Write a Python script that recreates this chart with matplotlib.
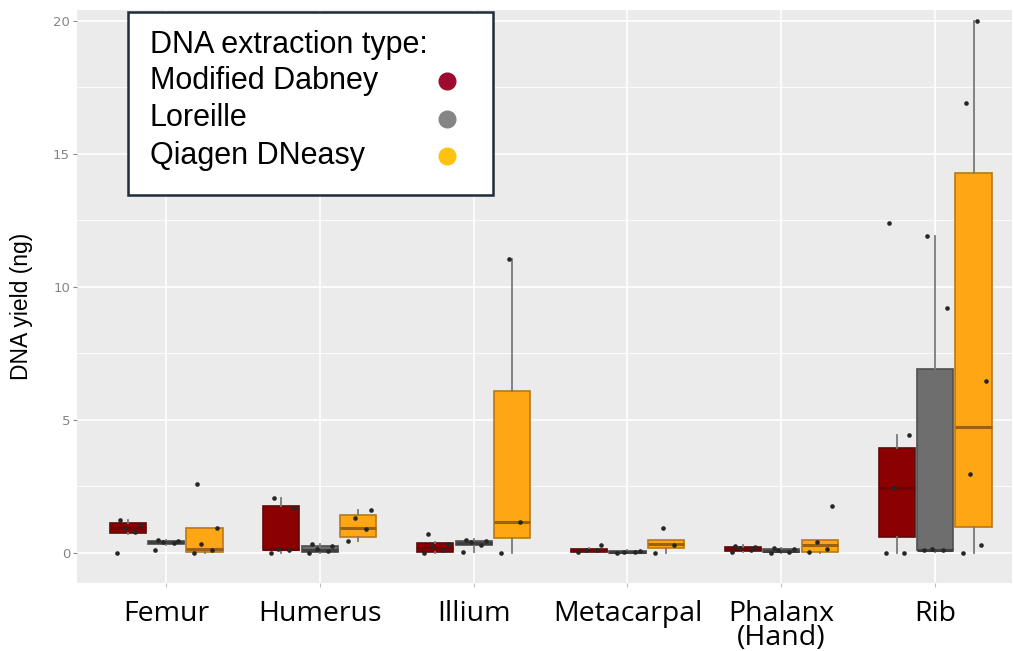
import numpy as np
import matplotlib.pyplot as plt
from matplotlib.patches import Rectangle
from matplotlib.lines import Line2D

# bones and extraction methods
bones = ["Femur", "Humerus", "Illium", "Metacarpal", "Phalanx\n(Hand)", "Rib"]
methods = ["Modified Dabney", "Loreille", "Qiagen DNeasy"]

# box summaries per method, one value per bone (ng)
dabney_q1 = [0.75, 0.10, 0.05, 0.05, 0.08, 0.60]
dabney_med = [0.95, 0.15, 0.20, 0.10, 0.15, 2.45]
dabney_q3 = [1.12, 1.75, 0.38, 0.15, 0.22, 3.95]
dabney_lo = [0.72, 0.00, 0.00, 0.02, 0.03, 0.00]
dabney_hi = [1.25, 2.07, 0.40, 0.20, 0.28, 4.45]

loreille_q1 = [0.35, 0.05, 0.28, 0.00, 0.02, 0.10]
loreille_med = [0.40, 0.12, 0.38, 0.03, 0.08, 0.12]
loreille_q3 = [0.45, 0.25, 0.46, 0.08, 0.15, 6.90]
loreille_lo = [0.30, 0.00, 0.05, 0.00, 0.00, 0.05]
loreille_hi = [0.50, 0.32, 0.52, 0.10, 0.20, 11.90]

qiagen_q1 = [0.02, 0.60, 0.58, 0.20, 0.05, 0.98]
qiagen_med = [0.15, 0.94, 1.15, 0.35, 0.30, 4.75]
qiagen_q3 = [0.95, 1.43, 6.10, 0.50, 0.50, 14.30]
qiagen_lo = [0.00, 0.45, 0.00, 0.00, 0.00, 0.00]
qiagen_hi = [0.95, 1.60, 11.05, 0.50, 0.50, 20.00]

# individual samples per bone
dabney_pts = [[0.0, 0.78, 0.95, 1.05, 1.25],
              [0.0, 0.12, 0.15, 1.70, 2.07],
              [0.0, 0.10, 0.25, 0.35, 0.70],
              [0.05, 0.10, 0.12, 0.30],
              [0.05, 0.12, 0.18, 0.22, 0.25],
              [0.0, 0.0, 2.45, 4.45, 12.40]]
loreille_pts = [[0.12, 0.38, 0.42, 0.45, 0.50],
                [0.0, 0.08, 0.15, 0.25, 0.32],
                [0.05, 0.30, 0.40, 0.45, 0.50],
                [0.0, 0.02, 0.05, 0.08],
                [0.0, 0.05, 0.10, 0.15, 0.20],
                [0.10, 0.12, 0.15, 9.20, 11.90]]
qiagen_pts = [[0.0, 0.10, 0.35, 0.95, 2.60],
              [0.45, 0.90, 1.30, 1.60],
              [0.0, 1.15, 11.05],
              [0.0, 0.30, 0.95],
              [0.05, 0.15, 0.40, 1.75],
              [0.0, 0.30, 2.97, 6.47, 16.90, 20.00]]

W, H = 1014, 651
fig = plt.figure(figsize=(W / 100, H / 100), dpi=100)
fig.patch.set_facecolor("white")
ax = fig.add_axes([77 / W, 1 - 583 / H, (1012 - 77) / W, (583 - 10) / H])
ax.set_facecolor("#EBEBEB")

fills = ["#8B0000", "#6E6E6E", "#FFA615"]
edges = ["#5E0A0A", "#4F4F4F", "#B9781A"]
medians = ["#700404", "#3f3f3f", "#9a6210"]
offsets = [-0.25, 0.0, 0.25]
jitter = [-0.07, 0.05, -0.02, 0.08, -0.05, 0.02, 0.06, -0.08]

summaries = [
    (dabney_q1, dabney_med, dabney_q3, dabney_lo, dabney_hi, dabney_pts),
    (loreille_q1, loreille_med, loreille_q3, loreille_lo, loreille_hi, loreille_pts),
    (qiagen_q1, qiagen_med, qiagen_q3, qiagen_lo, qiagen_hi, qiagen_pts),
]

x = np.arange(1, len(bones) + 1)
for k, (q1, med, q3, lo, hi, pts) in enumerate(summaries):
    stats = [dict(q1=q1[i], med=med[i], q3=q3[i], whislo=lo[i], whishi=hi[i], fliers=[])
             for i in range(len(bones))]
    ax.bxp(stats, positions=x + offsets[k], widths=0.235, patch_artist=True,
           showcaps=False, showfliers=False,
           boxprops=dict(facecolor=fills[k], edgecolor=edges[k], linewidth=1.2),
           medianprops=dict(color=medians[k], linewidth=2.2),
           whiskerprops=dict(color="#7a7a7a", linewidth=1.3),
           zorder=3)
    for i, vals in enumerate(pts):
        xs = [x[i] + offsets[k] + jitter[j % len(jitter)] for j in range(len(vals))]
        ax.scatter(xs, vals, s=11, color="#262626", zorder=5, linewidths=0)

# ggplot-like panel
ax.set_xlim(0.421, 6.50)
ax.set_ylim(-1.13, 20.41)
ax.set_yticks([0, 5, 10, 15, 20])
ax.set_yticks([2.5, 7.5, 12.5, 17.5], minor=True)
ax.set_xticks(x)
ax.set_xticklabels(bones, fontsize=20.5, family="Open Sans", color="black")
for t in ax.get_xticklabels():
    t.set_linespacing(0.8)
ax.grid(which="major", color="white", linewidth=1.2)
ax.grid(which="minor", axis="y", color="white", linewidth=0.6)
ax.set_axisbelow(True)
for s in ax.spines.values():
    s.set_visible(False)
ax.tick_params(axis="y", which="major", length=3, color="#8a8a8a", labelcolor="#858585",
               labelsize=9.5, pad=2)
ax.tick_params(axis="y", which="minor", length=0)
ax.tick_params(axis="x", length=3, color="#bdbdbd", pad=9.5)

fig.text(22 / W, 1 - 306 / H, "DNA yield (ng)", rotation=90, fontsize=16.5,
         family="Liberation Sans", ha="center", va="center")

# legend box
fig.add_artist(Rectangle((128 / W, 1 - 195 / H), (493 - 128) / W, (195 - 12) / H,
                         transform=fig.transFigure, facecolor="white",
                         edgecolor="#1d2c3c", linewidth=1.8, zorder=10))
fig.text(150 / W, 1 - 45 / H, "DNA extraction type:", fontsize=22,
         family="Liberation Sans", va="center", ha="left", zorder=11)
key_colors = ["#9E0B2F", "#858585", "#FFC20E"]
for j, (name, c) in enumerate(zip(methods, key_colors)):
    yy = 1 - (81 + 37.5 * j) / H
    fig.text(150 / W, yy, name, fontsize=22, family="Liberation Sans",
             va="center", ha="left", zorder=11)
    fig.add_artist(Line2D([447 / W], [yy], marker="o", markersize=12, color=c,
                          linestyle="none", transform=fig.transFigure, zorder=11))

plt.savefig("out.png", dpi=100)
